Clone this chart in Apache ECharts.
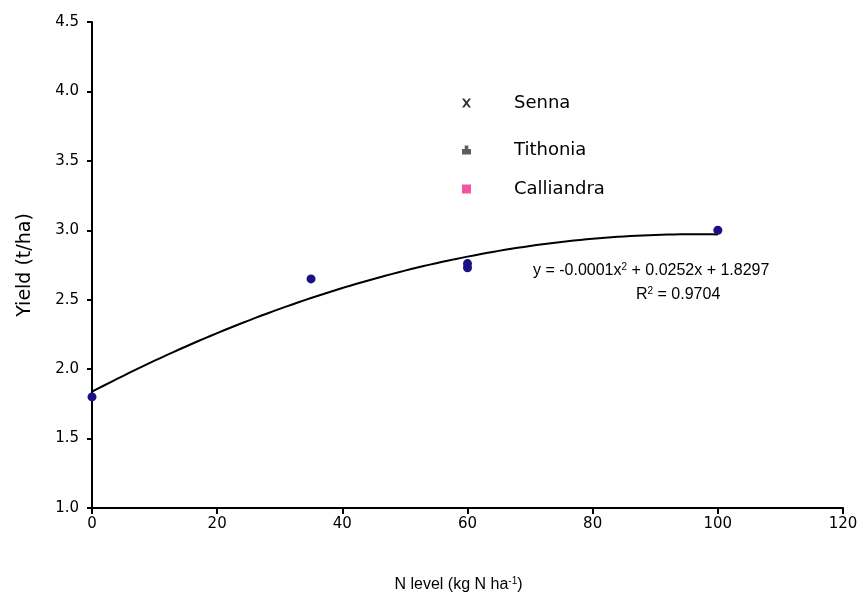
<!DOCTYPE html>
<html>
<head>
<meta charset="utf-8">
<script src="https://cdn.jsdelivr.net/npm/echarts@6/dist/echarts.min.js"></script>
<style>html,body{margin:0;padding:0;background:#fff}#c{width:865px;height:601px}</style>
</head>
<body>
<div id="c"></div>
<script>
// ---- data ----
var nLevel = [0, 35, 60, 60, 100];
var yieldVals = [1.80, 2.65, 2.73, 2.76, 3.00];
var legendNames = ['Senna', 'Tithonia', 'Calliandra'];
var xTicks = [0, 20, 40, 60, 80, 100, 120];
var yTicks = [1.0, 1.5, 2.0, 2.5, 3.0, 3.5, 4.0, 4.5];
var eqText = 'y = -0.0001x{sup|2} + 0.0252x + 1.8297';
var r2Text = 'R{sup|2} = 0.9704';

// quadratic least-squares trendline (like a spreadsheet trendline)
function quadFit(xs, ys) {
  var n = xs.length, S = [0,0,0,0,0], T = [0,0,0];
  for (var i = 0; i < n; i++) {
    var x = xs[i], y = ys[i];
    for (var k = 0; k < 5; k++) S[k] += Math.pow(x, k);
    for (var k2 = 0; k2 < 3; k2++) T[k2] += Math.pow(x, k2) * y;
  }
  var M = [[S[0],S[1],S[2],T[0]],[S[1],S[2],S[3],T[1]],[S[2],S[3],S[4],T[2]]];
  for (var c = 0; c < 3; c++) {
    for (var r = c + 1; r < 3; r++) {
      var f = M[r][c] / M[c][c];
      for (var j = c; j < 4; j++) M[r][j] -= f * M[c][j];
    }
  }
  var sol = [0,0,0];
  for (var r3 = 2; r3 >= 0; r3--) {
    var s = M[r3][3];
    for (var j2 = r3 + 1; j2 < 3; j2++) s -= M[r3][j2] * sol[j2];
    sol[r3] = s / M[r3][r3];
  }
  return sol; // c0, c1, c2
}
var coef = quadFit(nLevel, yieldVals);
var xMin = Math.min.apply(null, nLevel), xMax = Math.max.apply(null, nLevel);
var trend = [];
for (var x = xMin; x <= xMax; x += 1) trend.push([x, coef[0] + coef[1]*x + coef[2]*x*x]);

var points = nLevel.map(function (v, i) { return [v, yieldVals[i]]; });

var font = 'Liberation Sans';
var wideFont = 'DejaVu Sans';
var chart = echarts.init(document.getElementById('c'));
var legendIcons = [
  'path://M0,0L2.5,0L5,3.2L7.5,0L10,0L6.4,5L10,10L7.5,10L5,6.8L2.5,10L0,10L3.6,5Z',
  'path://M3,0L7,0L7,4L10,4L10,10L0,10L0,4L3,4Z',
  'rect'
];
var legendColors = ['#000000', '#333333', '#f0288c'];
var legendTops = [89, 136, 175];

var legends = legendNames.map(function (nm, i) {
  return {
    data: [{ name: nm, icon: legendIcons[i] }],
    left: 457, top: legendTops[i],
    itemWidth: 9, itemHeight: 9,
    selectedMode: false,
    textStyle: { fontFamily: wideFont, fontSize: 18, color: '#000', padding: [0, 0, 0, 38] }
  };
});

var supStyle = { fontSize: 10, verticalAlign: 'top', padding: [0,0,7,0], fontFamily: font, color: '#000', fill: '#000' };

var series = [
  {
    name: 'Trend', type: 'line', data: trend, showSymbol: false, symbol: 'none',
    lineStyle: { color: '#000', width: 2 }, silent: true, z: 2
  },
  {
    name: 'Yield', type: 'scatter', data: points, symbol: 'circle', symbolSize: 9,
    itemStyle: { color: '#1b0f85', opacity: 1 }, z: 3
  }
];
legendNames.forEach(function (nm, i) {
  series.push({ name: nm, type: 'scatter', data: [], itemStyle: { color: legendColors[i] } });
});

chart.setOption({
  animation: false,
  backgroundColor: '#fff',
  legend: legends,
  grid: { left: 92, right: 22, top: 22, bottom: 93, containLabel: false },
  xAxis: {
    type: 'value', min: xTicks[0], max: xTicks[xTicks.length - 1], interval: 20,
    axisLine: { lineStyle: { color: '#000', width: 2 } },
    axisTick: { length: 6, lineStyle: { color: '#000', width: 2 } },
    splitLine: { show: false },
    axisLabel: { fontFamily: wideFont, fontSize: 15, color: '#000', margin: 9 },
    name: 'N level (kg N ha{sup|-1})',
    nameLocation: 'middle', nameGap: 68,
    nameTextStyle: {
      fontFamily: font, fontSize: 16, color: '#000', padding: [0, 18, 0, 0],
      rich: { sup: supStyle }
    }
  },
  yAxis: {
    type: 'value', min: yTicks[0], max: yTicks[yTicks.length - 1], interval: 0.5,
    axisLine: { show: true, lineStyle: { color: '#000', width: 2 } },
    axisTick: { show: true, length: 5, lineStyle: { color: '#000', width: 2 } },
    splitLine: { show: false },
    axisLabel: { fontFamily: wideFont, fontSize: 15, color: '#000', margin: 13,
      formatter: function (v) { return v.toFixed(1); } },
    name: 'Yield (t/ha)', nameLocation: 'middle', nameGap: 57, nameRotate: 90,
    nameTextStyle: { fontFamily: wideFont, fontSize: 19, color: '#000' }
  },
  graphic: [
    {
      type: 'text', left: 533, top: 262,
      style: {
        text: eqText, font: '16px "Liberation Sans"', fill: '#000',
        rich: { sup: supStyle }
      }
    },
    {
      type: 'text', left: 636, top: 286,
      style: {
        text: r2Text, font: '16px "Liberation Sans"', fill: '#000',
        rich: { sup: supStyle }
      }
    }
  ],
  series: series
});
</script>
</body>
</html>
